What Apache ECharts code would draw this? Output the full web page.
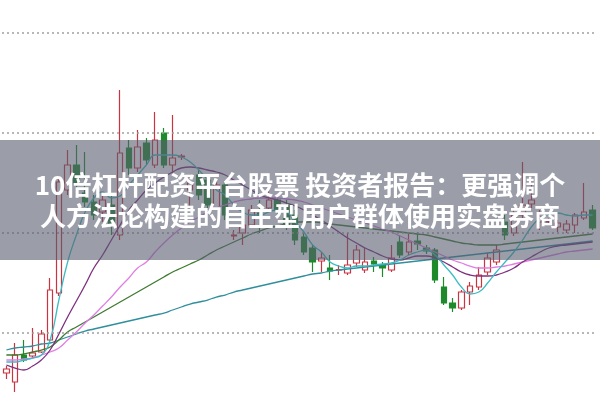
<!DOCTYPE html>
<html><head><meta charset="utf-8">
<script src="https://cdn.jsdelivr.net/npm/echarts@6/dist/echarts.min.js"></script>
<style>html,body{margin:0;padding:0;background:#fff}#c{width:600px;height:400px}</style>
</head><body><div id="c"></div>
<script>
const categories = Array.from({length:68},(_,i)=>'D'+(i+1));
// [open, close, low, high]
const candles = [
[2.7,3.1,2.1,3.4],[1.8,4.5,0.8,5.7],[4.5,4.0,3.8,6.0],[4.4,4.7,4.2,7.2],[4.8,6.6,4.7,7.0],
[6.0,11.0,5.9,12.2],[10.7,21.8,10.4,22.2],[21.0,23.5,20.5,25.0],[23.5,21.5,20.5,25.5],[20.7,19.8,19.3,24.8],
[19.8,18.5,18.0,20.5],[18.8,20.0,17.8,20.5],[19.5,17.5,16.5,20.5],[16.5,24.7,16.0,31.0],[25.2,23.2,22.5,26.0],
[23.2,25.3,22.8,27.0],[25.7,24.0,23.5,26.2],[23.5,26.0,23.2,28.8],[26.7,23.5,23.2,27.2],[23.5,24.2,22.5,28.5],
[24.3,24.4,24.0,24.6],[21.0,21.7,19.2,22.0],[22.5,20.5,20.0,23.0],[22.0,19.5,19.0,22.5],[19.2,21.5,19.0,22.0],
[21.5,18.5,18.0,22.0],[16.4,16.5,16.0,17.0],[16.7,17.5,15.5,18.0],[17.5,19.0,17.2,19.5],[18.7,18.3,16.7,20.0],
[19.2,20.0,18.8,21.0],[20.0,19.0,18.5,20.5],[19.5,17.5,17.0,20.0],[18.5,16.0,15.5,19.0],[16.3,14.8,14.5,16.7],
[15.2,13.8,12.8,15.5],[13.9,14.2,12.8,14.8],[13.2,12.9,12.0,14.5],[13.0,13.05,12.5,13.5],[12.7,13.5,12.5,16.7],
[13.7,15.0,13.3,15.5],[13.0,13.8,12.7,15.2],[13.9,13.6,12.8,14.3],[13.5,13.2,12.3,13.8],[13.0,14.2,12.8,15.5],
[15.8,14.5,14.2,16.5],[14.8,15.8,14.5,16.7],[15.9,15.6,15.0,16.8],[15.2,14.9,14.6,15.5],[15.0,12.0,11.7,15.2],
[11.3,9.7,9.5,12.3],[9.7,9.2,8.8,10.2],[9.2,10.8,9.0,11.0],[10.8,11.4,9.5,11.8],[11.3,12.5,11.0,13.3],
[12.8,14.2,12.5,14.7],[13.8,15.0,13.5,15.5],[17.8,16.5,16.0,18.5],[16.7,18.5,16.4,19.0],[18.5,19.5,18.2,23.8],
[19.6,20.0,19.2,22.2],[17.8,18.3,17.0,19.0],[17.8,17.85,17.5,18.2],[17.3,17.7,16.8,18.0],[17.0,17.6,16.7,18.0],
[17.5,18.5,16.7,18.7],[18.2,18.8,18.0,21.7],[19.0,17.2,17.0,19.5]
];
const ma5 = [3.8,3.8,4.0,4.2,4.5,6.0,10.0,13.8,16.5,18.8,20.2,20.8,20.2,20.4,21.5,22.5,23.5,24.5,24.5,24.5,24.3,23.8,23.0,22.0,21.0,20.5,19.5,18.8,18.5,18.5,18.8,19.0,18.8,17.8,16.8,15.5,14.8,13.8,13.4,13.2,13.4,13.4,13.5,13.6,13.7,14.0,14.5,14.8,15.0,14.5,13.5,12.5,11.3,10.6,10.8,11.7,12.8,13.8,14.8,16.0,17.3,18.2,18.6,18.7,18.5,18.4,18.5,18.5];
const ma10 = [3.5,3.2,3.0,3.4,4.0,5.0,6.6,8.3,9.9,11.5,13.2,14.5,16.0,17.5,19.0,20.0,21.0,21.7,22.3,22.8,23.2,23.3,23.2,23.0,22.8,22.5,22.0,21.5,21.0,20.5,20.2,20.0,19.7,19.4,19.0,18.5,18.0,17.4,16.8,16.2,15.7,15.2,14.8,14.4,14.1,14.0,14.2,14.4,14.4,14.2,13.8,13.3,12.8,12.5,12.4,12.4,12.5,12.8,13.2,13.8,14.3,14.8,15.2,15.4,15.5,15.6,15.7,15.8];
const ma20 = [4.0,4.0,4.1,4.2,4.5,4.8,5.2,6.0,6.8,7.7,8.5,9.4,10.3,11.3,12.2,13.2,13.8,14.8,15.7,16.5,17.2,17.8,18.3,18.8,19.2,19.5,19.8,20.0,20.1,20.2,20.2,20.2,20.1,20.0,19.8,19.5,19.2,18.9,18.6,18.3,18.0,17.7,17.4,17.1,16.8,16.4,16.0,15.6,15.2,14.8,14.4,14.0,13.7,13.4,13.2,13.2,13.3,13.4,13.6,13.8,14.0,14.2,14.4,14.6,14.8,14.9,15.0,15.1];
const ma30 = [4.5,4.5,4.6,4.8,5.0,5.3,6.0,6.8,7.3,7.8,8.3,8.8,9.3,9.8,10.3,10.8,11.3,11.8,12.3,12.8,13.2,13.6,14.0,14.5,15.0,15.4,15.8,16.2,16.6,16.9,17.2,17.4,17.6,17.8,17.8,17.8,17.7,17.6,17.5,17.4,17.3,17.2,17.1,17.0,16.9,16.8,16.7,16.6,16.5,16.3,16.1,15.9,15.7,15.6,15.5,15.5,15.5,15.6,15.7,15.8,15.9,16.0,16.1,16.2,16.3,16.4,16.5,16.6];
const ma60 = [5.0,5.2,5.3,5.4,5.6,5.7,6.0,6.3,6.6,6.9,7.1,7.3,7.5,7.7,7.9,8.1,8.3,8.5,8.7,9.0,9.3,9.6,9.8,10.0,10.3,10.5,10.8,11.0,11.2,11.4,11.6,11.8,12.0,12.2,12.4,12.6,12.7,12.9,13.0,13.1,13.2,13.3,13.4,13.5,13.6,13.7,13.8,13.9,14.0,14.1,14.2,14.3,14.4,14.5,14.6,14.7,14.8,14.9,15.0,15.1,15.2,15.3,15.4,15.5,15.6,15.7,15.8,15.9];
const gridLevels = [36.7, 26.7, 16.7, 6.7];
const titleLines = ['10倍杠杆配资平台股票 投资者报告：更强调个', '人方法论构建的自主型用户群体使用实盘券商'];

const chart = echarts.init(document.getElementById('c'));
function maSeries(name, data, color){
  return {name, type:'line', data, smooth:true, symbol:'none', lineStyle:{width:1.3, color}, z:3, silent:true};
}
chart.setOption({
  animation:false,
  grid:{left:2, right:3, top:0, bottom:0},
  xAxis:{type:'category', data:categories, show:false, boundaryGap:true},
  yAxis:{type:'value', min:0, max:40, show:false, splitLine:{show:false}},
  series:[
    {type:'candlestick', data:candles, barWidth:6, z:2,
     itemStyle:{color:'#ffffff', color0:'#1d8a2c', borderColor:'#cc3340', borderColor0:'#1d8a2c', borderWidth:1.2},
     markLine:{silent:true, symbol:'none', label:{show:false},
       lineStyle:{type:[2,3], color:'#a0a0a0', width:1.5},
       data:gridLevels.map(v=>({yAxis:v}))}
    },
    maSeries('MA60', ma60, '#2f8f9c'),
    maSeries('MA30', ma30, '#3f7a30'),
    maSeries('MA20', ma20, '#e07ee4'),
    maSeries('MA10', ma10, '#7f2f80'),
    maSeries('MA5', ma5, '#3cbcc2')
  ],
  graphic:[
    {type:'rect', shape:{x:0,y:140,width:600,height:120}, style:{fill:'rgba(88,94,112,0.6)'}, z:100},
    {type:'text', x:300, y:185, style:{text:titleLines[0], fill:'#fff', font:'bold 26px "Noto Sans CJK SC"', align:'center', verticalAlign:'middle'}, z:101},
    {type:'text', x:300, y:216, style:{text:titleLines[1], fill:'#fff', font:'bold 26px "Noto Sans CJK SC"', align:'center', verticalAlign:'middle'}, z:101}
  ]
});
</script></body></html>
